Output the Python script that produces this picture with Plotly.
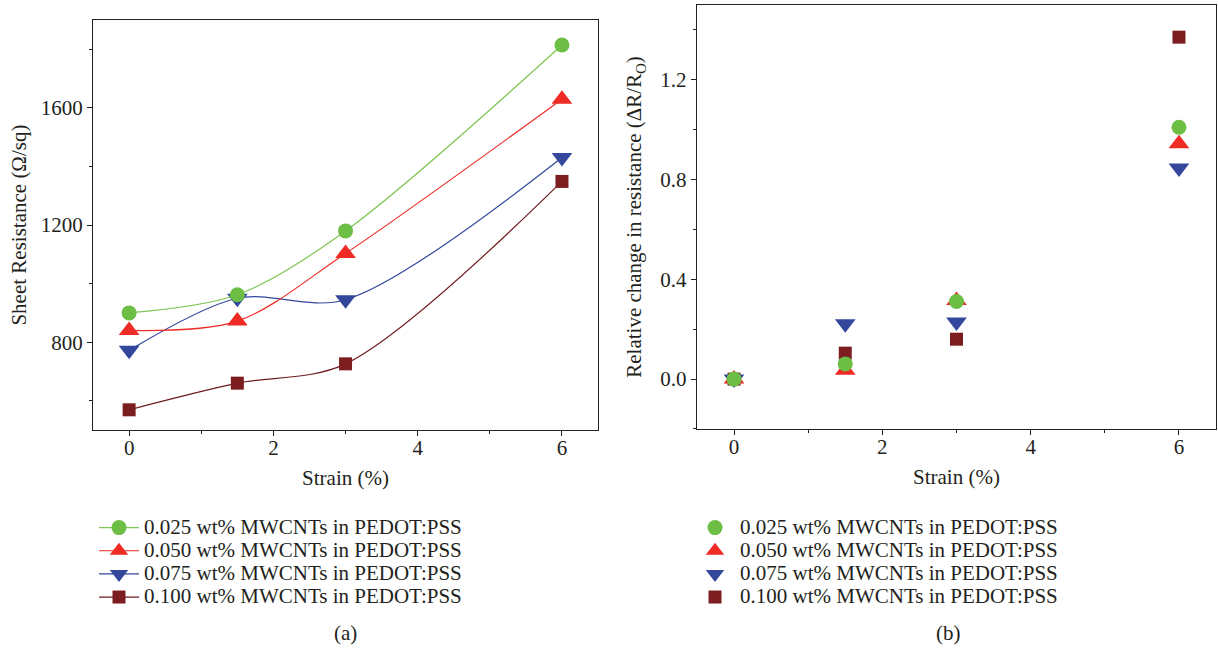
import plotly.graph_objects as go

# ---------------- data ----------------
strain = [0, 1.5, 3, 6]
series_names = [
    "0.025 wt% MWCNTs in PEDOT:PSS",
    "0.050 wt% MWCNTs in PEDOT:PSS",
    "0.075 wt% MWCNTs in PEDOT:PSS",
    "0.100 wt% MWCNTs in PEDOT:PSS",
]
sheet_025 = [900, 962, 1180, 1815]
sheet_050 = [840, 872, 1103, 1630]
sheet_075 = [772, 950, 945, 1431]
sheet_100 = [569, 660, 726, 1349]

rel_025 = [0.0, 0.061, 0.311, 1.010]
rel_050 = [0.0, 0.035, 0.315, 0.944]
rel_075 = [0.0, 0.222, 0.229, 0.846]
rel_100 = [0.0, 0.104, 0.160, 1.371]

colors = ["#6CBE45", "#EE2B24", "#33479C", "#7C1D20"]
line_colors = ["#7DC653", "#EE2B24", "#33479C", "#6E1A1D"]
symbols = ["circle", "triangle-up", "triangle-down", "square"]
sizes = [15, 18, 18, 13]

sheet = [sheet_025, sheet_050, sheet_075, sheet_100]
rel = [rel_025, rel_050, rel_075, rel_100]

FONT = "Liberation Serif"
TXT = "#231F20"
FS = 21
LEG_FS = 15.5


def leg_label(s):
    return "<span style='font-size:%dpx'>%s</span>" % (FS, s)


fig = go.Figure()

# draw order reversed so the 0.025 series sits on top; legend keeps the original order
for i in reversed(range(4)):
    fig.add_trace(go.Scatter(
        x=strain, y=sheet[i], mode="lines+markers", name=leg_label(series_names[i]),
        line=dict(color=line_colors[i], width=1.2, shape="spline", smoothing=0.9),
        marker=dict(symbol=symbols[i], size=sizes[i], color=colors[i]),
        xaxis="x", yaxis="y", legend="legend", legendrank=i + 1,
    ))

for i in reversed(range(4)):
    fig.add_trace(go.Scatter(
        x=strain, y=rel[i], mode="markers", name=leg_label(series_names[i]),
        marker=dict(symbol=symbols[i], size=sizes[i], color=colors[i]),
        xaxis="x2", yaxis="y2", legend="legend2", legendrank=i + 1,
    ))

axis_common = dict(
    showline=True, linecolor=TXT, linewidth=1.3, mirror=True,
    ticks="outside", ticklen=5, tickwidth=1, tickcolor=TXT,
    showgrid=False, zeroline=False, automargin=False,
    tickfont=dict(family=FONT, size=FS, color=TXT),
    title_font=dict(family=FONT, size=FS, color=TXT),
)

leg_common = dict(
    xanchor="left", yanchor="top", bgcolor="rgba(0,0,0,0)",
    font=dict(family=FONT, size=LEG_FS, color=TXT),
    tracegroupgap=0, itemsizing="trace", itemwidth=40, traceorder="normal",
)

fig.update_layout(
    width=1218, height=648,
    margin=dict(l=0, r=0, t=0, b=0),
    paper_bgcolor="white", plot_bgcolor="white",
    font=dict(family=FONT, size=FS, color=TXT),
    xaxis=dict(domain=[0.0764, 0.491], range=[-0.5, 6.5], dtick=2, tick0=0,
               minor=dict(dtick=1, ticks="outside", ticklen=3, tickcolor=TXT),
               ticklabelstandoff=-6,
               title=dict(text="Strain (%)", standoff=10), anchor="y", **axis_common),
    yaxis=dict(domain=[0.3364, 0.969], range=[500, 1900], dtick=400, tick0=0,
               minor=dict(dtick=200, tick0=0, ticks="outside", ticklen=3, tickcolor=TXT),
               title=dict(text="Sheet Resistance (Ω/sq)", standoff=8), anchor="x", **axis_common),
    xaxis2=dict(domain=[0.5722, 0.9984], range=[-0.5, 6.5], dtick=2, tick0=0,
                minor=dict(dtick=1, ticks="outside", ticklen=3, tickcolor=TXT),
                ticklabelstandoff=-6,
                title=dict(text="Strain (%)", standoff=10), anchor="y2", **axis_common),
    yaxis2=dict(domain=[0.338, 0.9923], range=[-0.2, 1.5], dtick=0.4, tick0=0, tickformat=".1f",
                minor=dict(dtick=0.2, tick0=0, ticks="outside", ticklen=3, tickcolor=TXT),
                title=dict(text="Relative change in resistance (ΔR/R<sub>O</sub>)", standoff=12),
                anchor="x2", **axis_common),
    legend=dict(x=94 / 1218, y=1 - 511 / 648, **leg_common),
    legend2=dict(x=690 / 1218, y=1 - 511 / 648, **leg_common),
    annotations=[
        dict(text="(a)", x=345 / 1218, y=15 / 648, xref="paper", yref="paper", showarrow=False,
             xanchor="center", yanchor="middle",
             font=dict(family=FONT, size=FS, color=TXT)),
        dict(text="(b)", x=948 / 1218, y=15 / 648, xref="paper", yref="paper", showarrow=False,
             xanchor="center", yanchor="middle",
             font=dict(family=FONT, size=FS, color=TXT)),
    ],
)

fig.write_html("out.html", config={"displayModeBar": False},
               post_script="document.body.style.margin='0';document.body.style.overflow='hidden';")
